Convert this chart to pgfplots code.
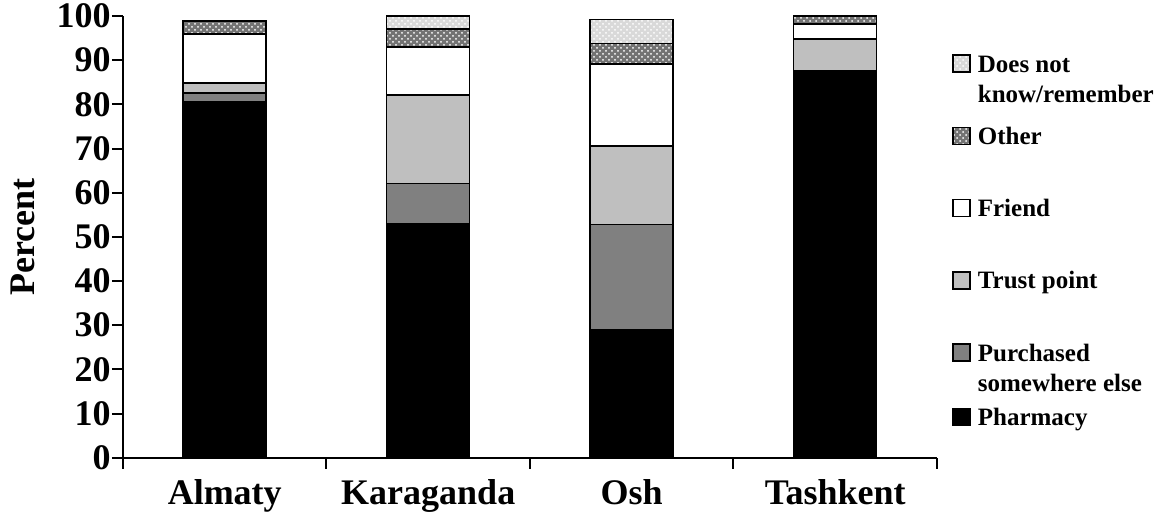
\documentclass[border=0pt]{standalone}
\usepackage{fontspec}
\setmainfont{Liberation Serif}
\usepackage{pgfplots}
\pgfplotsset{compat=1.18}
\usetikzlibrary{patterns}
\newcommand{\LE}[1]{\raisebox{0pt}[8.5pt][0pt]{\begin{tabular}[t]{@{}l@{}}#1\end{tabular}}}
\pgfplotsset{sqd/.style={legend image code/.code={\pgfpathmoveto{\pgfpoint{0pt}{-#1}}\pgfusepath{discard}\draw[##1] (0pt,0pt) rectangle (8.5pt,8.5pt);}}}
\begin{document}
\begin{tikzpicture}
\useasboundingbox (-61.5pt,-33.65pt) rectangle (523pt,228.85pt);
\begin{axis}[
  scale only axis, width=407pt, height=220.85pt,
  ybar stacked, bar width=41.5pt,
  xmin=-0.5, xmax=3.5, ymin=0, ymax=100,
  axis x line*=bottom, axis y line*=left,
  axis line style={line width=1pt, -},
  xtick={-0.5,0.5,1.5,2.5,3.5}, xticklabels={},
  extra x ticks={0,1,2,3},
  extra x tick labels={Almaty,Karaganda,Osh,Tashkent},
  extra x tick style={major tick length=0pt, xticklabel style={yshift=-7.5pt}},
  ytick={0,10,...,100},
  tick align=outside, major tick length=5.5pt,
  tick style={line width=1pt, black},
  /pgf/number format/assume math mode=true,
  ticklabel style={font=\fontsize{18}{21}\selectfont\bfseries},
  yticklabel style={inner xsep=0.5pt},
  ylabel={Percent},
  every axis y label/.style={at={(axis description cs:0,0.5)}, xshift=-50pt, rotate=90, anchor=center, font=\fontsize{18}{21}\selectfont\bfseries},
  every axis plot/.append style={draw=black, line width=0.75pt},
  reverse legend,
  legend cell align=left,
  legend style={at={(axis description cs:1.0184,0.914)}, anchor=north west, draw=none, fill=none,
    inner sep=0pt, row sep=21.75pt, font=\fontsize{12.5}{15}\selectfont\bfseries,
    cells={anchor=base west}, nodes={inner xsep=3.5pt, inner ysep=0pt}},
]
\addplot[fill=black, sqd=0pt] coordinates {(0,80.6) (1,52.9) (2,28.9) (3,87.6)};
\addlegendentry{\LE{Pharmacy}}
\addplot[fill=black!50, sqd=0pt] coordinates {(0,2.0) (1,9.2) (2,23.9) (3,0)};
\addlegendentry{\LE{Purchased\\somewhere else}}
\addplot[fill=black!25, sqd=5.5pt] coordinates {(0,2.2) (1,20.0) (2,17.8) (3,7.2)};
\addlegendentry{\LE{Trust point}}
\addplot[fill=white, sqd=5.5pt] coordinates {(0,11.1) (1,10.9) (2,18.5) (3,3.4)};
\addlegendentry{\LE{Friend}}
\addplot[fill=black!55, postaction={pattern=crosshatch dots, pattern color=white}, sqd=5.5pt] coordinates {(0,3.0) (1,4.0) (2,4.7) (3,1.8)};
\addlegendentry{\LE{Other}}
\addplot[fill=black!15, postaction={pattern=crosshatch dots, pattern color=white}, sqd=5.5pt] coordinates {(0,0) (1,3.0) (2,5.4) (3,0)};
\addlegendentry{\LE{Does not\\know/remember}}
\end{axis}
\end{tikzpicture}
\end{document}
